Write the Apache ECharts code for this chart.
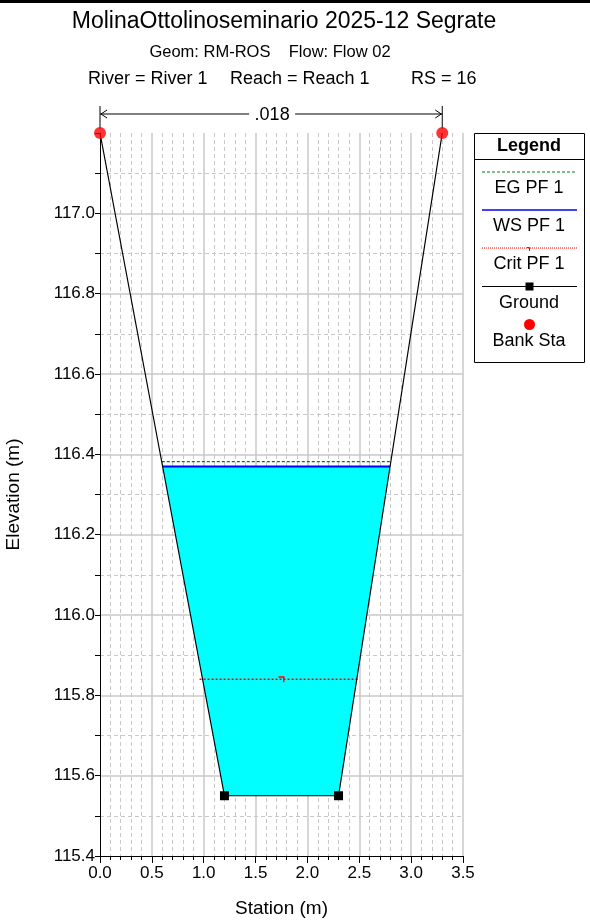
<!DOCTYPE html>
<html>
<head>
<meta charset="utf-8">
<script src="https://cdn.jsdelivr.net/npm/echarts@6/dist/echarts.min.js"></script>
<style>
  html, body { margin: 0; padding: 0; background: #fff; }
  #chart { width: 590px; height: 921px; }
</style>
</head>
<body>
<div id="chart"></div>
<script>
// sezione trasversale RS 16
var groundSta = [0.0, 1.2, 2.3, 3.3];
var groundElev = [117.2, 115.55, 115.55, 117.2];
var bankSta = [0.0, 3.3];
var bankElev = [117.2, 117.2];
var wsSta = [0.604, 2.797];
var wsElev = 116.37;
var egSta = [0.596, 2.803];
var egElev = 116.382;
var critSta = [0.96, 1.75, 2.49];
var critElev = 115.84;
var waterPoly = [[0.604, 116.37], [2.797, 116.37], [2.3, 115.55], [1.2, 115.55]];
var manningN = '.018';

var FONT = 'Liberation Sans';

var chart = echarts.init(document.getElementById('chart'));

var groundData = [];
for (var i = 0; i < groundSta.length; i++) {
    var isBank = (i == 0 || i == groundSta.length - 1);
    groundData.push({ value: [groundSta[i], groundElev[i]], symbol: isBank ? 'none' : 'rect' });
}
var bankData = [];
for (var i = 0; i < bankSta.length; i++) {
    bankData.push([bankSta[i], bankElev[i]]);
}
var critData = [];
for (var i = 0; i < critSta.length; i++) {
    critData.push({ value: [critSta[i], critElev], symbol: i == 1 ? 'path://M0,0 L4,0 L4,4 L3,4 L3,1 L0,1 Z' : 'none' });
}

var option = {
    animation: false,
    backgroundColor: '#fff',
    textStyle: { fontFamily: FONT },
    grid: { left: 100, right: 127, top: 133, bottom: 65, containLabel: false, outerBoundsMode: 'none' },
    xAxis: {
        type: 'value',
        min: 0, max: 3.5, interval: 0.5,
        name: 'Station (m)', nameLocation: 'middle', nameGap: 43,
        nameTextStyle: { fontSize: 19, color: '#000', fontFamily: FONT },
        axisLine: { lineStyle: { color: '#000', width: 1 } },
        axisTick: { length: 7, lineStyle: { color: '#000' } },
        minorTick: { show: true, splitNumber: 5, length: 4, lineStyle: { color: '#000' } },
        axisLabel: { fontSize: 17, color: '#000', margin: 9, formatter: function (v) { return v.toFixed(1); } },
        splitLine: { show: true, showMinLine: false, lineStyle: { color: '#c8c8c8', width: 1.5 } },
        minorSplitLine: { show: true, lineStyle: { color: '#c8c8c8', type: [4, 3] } }
    },
    yAxis: {
        type: 'value',
        min: 115.4, max: 117.2, interval: 0.2,
        name: 'Elevation (m)', nameLocation: 'middle', nameGap: 77, nameRotate: 90,
        nameTextStyle: { fontSize: 19, color: '#000', fontFamily: FONT },
        axisLine: { show: true, lineStyle: { color: '#000', width: 1 } },
        axisTick: { show: true, length: 5, lineStyle: { color: '#000' } },
        minorTick: { show: true, splitNumber: 2, length: 5, lineStyle: { color: '#000' } },
        axisLabel: {
            fontSize: 17, color: '#000', margin: 5, showMaxLabel: false,
            formatter: function (v) { return v.toFixed(1); }
        },
        splitLine: { show: true, showMinLine: false, showMaxLine: false, lineStyle: { color: '#c8c8c8', width: 1.5 } },
        minorSplitLine: { show: true, lineStyle: { color: '#c8c8c8', type: [4, 3] } }
    },
    series: [
        {
            name: 'Water',
            type: 'custom',
            z: 1,
            data: [0],
            renderItem: function (params, api) {
                var pts = [];
                for (var i = 0; i < waterPoly.length; i++) {
                    pts.push(api.coord(waterPoly[i]));
                }
                return { type: 'polygon', shape: { points: pts }, style: { fill: '#00ffff', stroke: 'none' } };
            }
        },
        {
            name: 'EG PF 1', type: 'line', z: 3, symbol: 'none',
            data: [[egSta[0], egElev], [egSta[1], egElev]],
            lineStyle: { color: '#008000', width: 1.2, type: [3, 2] }
        },
        {
            name: 'WS PF 1', type: 'line', z: 3, symbol: 'none',
            data: [[wsSta[0], wsElev], [wsSta[1], wsElev]],
            lineStyle: { color: '#0000ff', width: 2 }
        },
        {
            name: 'Crit PF 1', type: 'line', z: 3, symbolSize: [6, 6], symbolKeepAspect: true,
            data: critData,
            itemStyle: { color: '#ff0000' },
            lineStyle: { color: '#ff0000', width: 1.6, type: [2, 2] }
        },
        {
            name: 'Ground', type: 'line', z: 4, symbolSize: 9, clip: false,
            data: groundData,
            itemStyle: { color: '#000' },
            lineStyle: { color: '#000', width: 1.2 }
        },
        {
            name: 'Bank Sta', type: 'scatter', z: 5, symbolSize: 12, clip: false,
            data: bankData,
            itemStyle: { color: '#ff0000' }
        }
    ]
};
chart.setOption(option);

// titoli, quota n di Manning e legenda
var pL = chart.convertToPixel({ xAxisIndex: 0, yAxisIndex: 0 }, [bankSta[0], bankElev[0]]);
var pR = chart.convertToPixel({ xAxisIndex: 0, yAxisIndex: 0 }, [bankSta[1], bankElev[1]]);
var midX = (pL[0] + pR[0]) / 2;
var arrowY = 114;
var lineCol = '#000';

function txt(x, y, s, size, align, bold) {
    return { type: 'text', x: x, y: y, style: { text: s, font: (bold ? 'bold ' : '') + size + 'px ' + FONT, fill: '#000', align: align, verticalAlign: 'middle' } };
}

var graphics = [
    { type: 'rect', shape: { x: 0, y: 0, width: 590, height: 3 }, style: { fill: '#000' } },
    txt(284, 22, 'MolinaOttolinoseminario 2025-12 Segrate', 23, 'center'),
    txt(270, 52, 'Geom: RM-ROS    Flow: Flow 02', 16.5, 'center'),
    txt(88, 79, 'River = River 1', 18, 'left'),
    txt(230, 79, 'Reach = Reach 1', 18, 'left'),
    txt(411, 79, 'RS = 16', 18, 'left'),
    // quota
    { type: 'line', shape: { x1: pL[0], y1: 106, x2: pL[0], y2: pL[1] - 4 }, style: { stroke: lineCol, lineWidth: 1 } },
    { type: 'line', shape: { x1: pR[0], y1: 106, x2: pR[0], y2: pR[1] - 4 }, style: { stroke: lineCol, lineWidth: 1 } },
    { type: 'line', shape: { x1: pL[0], y1: arrowY, x2: midX - 22, y2: arrowY }, style: { stroke: lineCol, lineWidth: 1 } },
    { type: 'line', shape: { x1: midX + 24, y1: arrowY, x2: pR[0], y2: arrowY }, style: { stroke: lineCol, lineWidth: 1 } },
    { type: 'polyline', shape: { points: [[pL[0] + 7, arrowY - 4], [pL[0] + 1, arrowY], [pL[0] + 7, arrowY + 4]] }, style: { stroke: lineCol, fill: 'none', lineWidth: 1 } },
    { type: 'polyline', shape: { points: [[pR[0] - 7, arrowY - 4], [pR[0] - 1, arrowY], [pR[0] - 7, arrowY + 4]] }, style: { stroke: lineCol, fill: 'none', lineWidth: 1 } },
    txt(midX + 1, arrowY + 1, manningN, 18, 'center'),
    // legenda
    { type: 'rect', shape: { x: 474.5, y: 133.5, width: 110, height: 229 }, style: { fill: '#fff', stroke: '#000', lineWidth: 1 } },
    { type: 'line', shape: { x1: 474.5, y1: 159.5, x2: 584.5, y2: 159.5 }, style: { stroke: '#000', lineWidth: 1 } },
    txt(529, 146, 'Legend', 18, 'center', true),
    { type: 'line', shape: { x1: 482, y1: 172, x2: 577, y2: 172 }, style: { stroke: '#008000', lineWidth: 1, lineDash: [3, 2] } },
    txt(529, 188, 'EG PF 1', 18, 'center'),
    { type: 'line', shape: { x1: 482, y1: 210, x2: 577, y2: 210 }, style: { stroke: '#0000ff', lineWidth: 1.5 } },
    txt(529, 226, 'WS PF 1', 18, 'center'),
    { type: 'line', shape: { x1: 482, y1: 248, x2: 577, y2: 248 }, style: { stroke: '#ff0000', lineWidth: 1, lineDash: [1, 1] } },
    { type: 'polyline', shape: { points: [[527, 247.5], [529.5, 247.5], [529.5, 251]] }, style: { stroke: '#ff0000', fill: 'none', lineWidth: 1 } },
    txt(529, 264, 'Crit PF 1', 18, 'center'),
    { type: 'line', shape: { x1: 482, y1: 286.5, x2: 577, y2: 286.5 }, style: { stroke: '#000', lineWidth: 1 } },
    { type: 'rect', shape: { x: 525.5, y: 282.5, width: 8, height: 8 }, style: { fill: '#000' } },
    txt(529, 303, 'Ground', 18, 'center'),
    { type: 'circle', shape: { cx: 529.5, cy: 324.5, r: 5.5 }, style: { fill: '#ff0000' } },
    txt(529, 341, 'Bank Sta', 18, 'center')
];
chart.setOption({ graphic: graphics });
</script>
</body>
</html>
